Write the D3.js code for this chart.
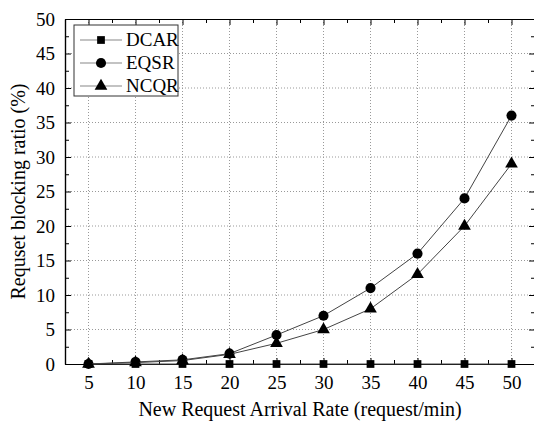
<!DOCTYPE html>
<html>
<head>
<meta charset="utf-8">
<script src="https://cdn.jsdelivr.net/npm/d3@7"></script>
<style>
  body { margin: 0; background: #fff; font-family: 'Liberation Serif', 'Times New Roman', serif; }
</style>
</head>
<body>
<div class="chart"></div>
<script>
// Data.
const rates = [5, 10, 15, 20, 25, 30, 35, 40, 45, 50];
const dcar = [0, 0, 0, 0, 0, 0, 0, 0, 0, 0];
const eqsr = [0, 0.3, 0.6, 1.5, 4.2, 7, 11, 16, 24, 36];
const ncqr = [0, 0.2, 0.5, 1.4, 3, 5, 8, 13, 20, 29];
const seriesNames = ['DCAR', 'EQSR', 'NCQR'];
const yTicks = [0, 5, 10, 15, 20, 25, 30, 35, 40, 45, 50];

const width = 534, height = 423;
const margin = {top: 19, right: -1, bottom: 59, left: 65};
const w = width - margin.left - margin.right;
const h = height - margin.top - margin.bottom;
const serif = "'Liberation Serif', 'Times New Roman', serif";

const svg = d3.select('.chart').append('svg')
    .attr('width', width)
    .attr('height', height)
    .style('display', 'block');

const g = svg.append('g')
    .attr('transform', `translate(${margin.left},${margin.top})`);

const x = d3.scaleLinear().domain([2.5, 52.5]).range([0, w]);
const y = d3.scaleLinear().domain([0, 50]).range([h, 0]);

// Grid
g.append('g').selectAll('line').data(rates).join('line')
    .attr('x1', d => x(d)).attr('x2', d => x(d))
    .attr('y1', 0).attr('y2', h)
    .attr('stroke', '#999').attr('stroke-dasharray', '1,2');
g.append('g').selectAll('line').data(yTicks.slice(1, -1)).join('line')
    .attr('y1', d => y(d)).attr('y2', d => y(d))
    .attr('x1', 0).attr('x2', w)
    .attr('stroke', '#999').attr('stroke-dasharray', '1,2');

// Axes with inward ticks on all sides
const minorX = d3.range(7.5, 52.5, 5);
const minorY = d3.range(2.5, 50, 5);

function styleAxis(sel) {
    sel.attr('font-family', null).attr('font-size', null);
    sel.select('.domain').attr('stroke', '#000').attr('stroke-width', 1.2);
    sel.selectAll('.tick line').attr('stroke', '#000');
    sel.selectAll('text')
        .style('font-family', serif)
        .style('font-size', '19px')
        .attr('fill', '#000');
}

g.append('g').attr('transform', `translate(0,${h})`)
    .call(d3.axisBottom(x).tickValues(rates).tickSizeInner(-6).tickSizeOuter(0).tickPadding(12))
    .call(styleAxis);
g.append('g').attr('transform', `translate(0,${h})`)
    .call(d3.axisBottom(x).tickValues(minorX).tickSizeInner(-4).tickSizeOuter(0).tickFormat(''))
    .call(styleAxis);
g.append('g')
    .call(d3.axisTop(x).tickValues(rates).tickSizeInner(-6).tickSizeOuter(0).tickFormat(''))
    .call(styleAxis);
g.append('g')
    .call(d3.axisTop(x).tickValues(minorX).tickSizeInner(-4).tickSizeOuter(0).tickFormat(''))
    .call(styleAxis);

g.append('g')
    .call(d3.axisLeft(y).tickValues(yTicks).tickSizeInner(-6).tickSizeOuter(0).tickPadding(10))
    .call(styleAxis);
g.append('g')
    .call(d3.axisLeft(y).tickValues(minorY).tickSizeInner(-4).tickSizeOuter(0).tickFormat(''))
    .call(styleAxis);
g.append('g').attr('transform', `translate(${w},0)`)
    .call(d3.axisRight(y).tickValues(yTicks).tickSizeInner(-6).tickSizeOuter(0).tickFormat(''))
    .call(styleAxis);
g.append('g').attr('transform', `translate(${w},0)`)
    .call(d3.axisRight(y).tickValues(minorY).tickSizeInner(-4).tickSizeOuter(0).tickFormat(''))
    .call(styleAxis);

// Series
const series = [
    {name: seriesNames[0], values: dcar, symbol: d3.symbolSquare, size: 60},
    {name: seriesNames[1], values: eqsr, symbol: d3.symbolCircle, size: 80},
    {name: seriesNames[2], values: ncqr, symbol: d3.symbolTriangle, size: 70}
];

const line = d3.line().x((d, i) => x(rates[i])).y(d => y(d));

series.forEach(s => {
    g.append('path')
        .datum(s.values)
        .attr('d', line)
        .attr('fill', 'none')
        .attr('stroke', '#444')
        .attr('stroke-width', 1);
    g.append('g').selectAll('path').data(s.values).join('path')
        .attr('transform', (d, i) => `translate(${x(rates[i])},${y(d)})`)
        .attr('d', d3.symbol().type(s.symbol).size(s.size))
        .attr('fill', '#000');
});

// Legend
const legend = g.append('g').attr('transform', 'translate(9,6)');
legend.append('rect')
    .attr('width', 104).attr('height', 71)
    .attr('fill', '#fff').attr('stroke', '#333').attr('stroke-width', 1);
series.forEach((s, i) => {
    const row = legend.append('g').attr('transform', `translate(0,${15 + i * 23})`);
    row.append('line').attr('x1', 6).attr('x2', 48).attr('stroke', '#888').attr('stroke-width', 1.2);
    row.append('path')
        .attr('transform', 'translate(27,0)')
        .attr('d', d3.symbol().type(s.symbol).size(s.size))
        .attr('fill', '#000');
    row.append('text').attr('x', 52).attr('y', 6)
        .style('font-family', serif).style('font-size', '19px').text(s.name);
});

// Axis titles
svg.append('text')
    .attr('x', margin.left + x(27.5)).attr('y', 416)
    .attr('text-anchor', 'middle')
    .style('font-family', serif).style('font-size', '20px')
    .text('New Request Arrival Rate (request/min)');
svg.append('text')
    .attr('transform', `translate(25,${margin.top + h / 2}) rotate(-90)`)
    .attr('text-anchor', 'middle')
    .style('font-family', serif).style('font-size', '20px')
    .text('Requset blocking ratio (%)');
</script>
</body>
</html>
